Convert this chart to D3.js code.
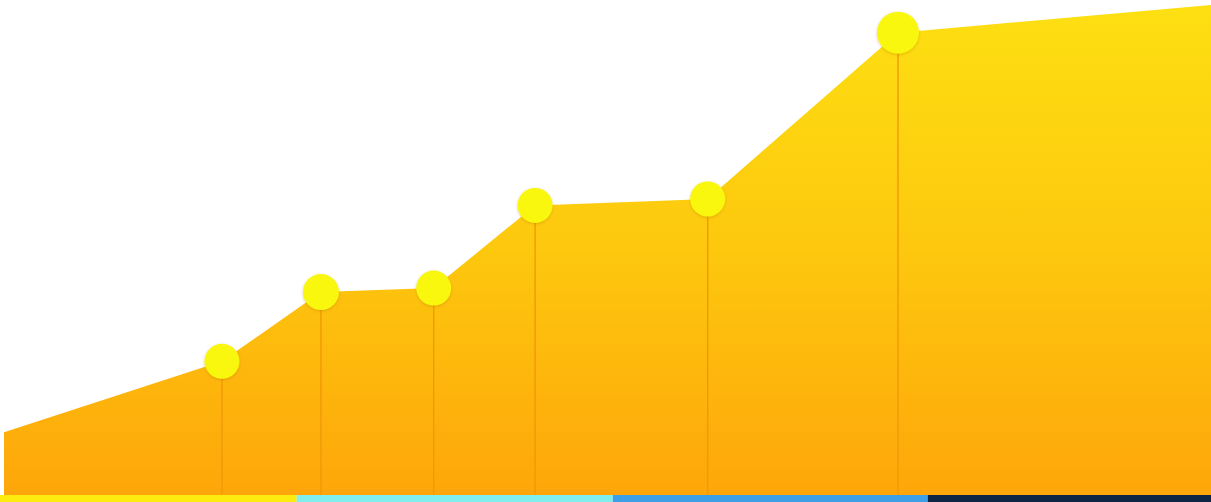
<!DOCTYPE html>
<html><head><meta charset="utf-8">
<script src="https://cdn.jsdelivr.net/npm/d3@7"></script>
<style>html,body{margin:0;padding:0;background:#fff;overflow:hidden}</style>
</head><body>
<svg id="c" width="1211" height="502"></svg>
<script>
// data
const steps = [0, 18.06, 26.26, 35.6, 44.0, 58.3, 74.07, 100];
const values = [12.7, 27.0, 41.0, 41.8, 58.5, 59.8, 93.4, 99.0];
const markerFlags = [false, true, true, true, true, true, true, false];
const markerSizes = [0, 17.5, 18, 17.5, 17.5, 17.5, 21, 0];
const bandLabels = ["A", "B", "C", "D"];
const bandStarts = [0, 24.5, 50.6, 76.6];
const bandEnds = [24.5, 50.6, 76.6, 100];
const bandColors = ["#fdea0f", "#80eeed", "#3d9fe6", "#0f2545"];

const W = 1211, H = 502;
const svg = d3.select("#c");
const x = d3.scaleLinear().domain([0, 100]).range([4, 1211]);
const y = d3.scaleLinear().domain([0, 100]).range([495, 0]);
const xb = d3.scaleLinear().domain([0, 100]).range([0, 1211]);

const defs = svg.append("defs");
const g = defs.append("linearGradient").attr("id", "ag")
  .attr("gradientUnits", "userSpaceOnUse").attr("x1", 0).attr("y1", 0).attr("x2", 0).attr("y2", 495);
g.append("stop").attr("offset", 0).attr("stop-color", "#fde012");
g.append("stop").attr("offset", 0.5).attr("stop-color", "#fdc80e");
g.append("stop").attr("offset", 1).attr("stop-color", "#fea60a");
const f = defs.append("filter").attr("id", "sh").attr("x", "-50%").attr("y", "-50%").attr("width", "200%").attr("height", "200%");
f.append("feDropShadow").attr("dx", 0).attr("dy", 1).attr("stdDeviation", 1.5).attr("flood-color", "#b07000").attr("flood-opacity", 0.35);

const pts = steps.map((s, i) => ({s, v: values[i], m: markerFlags[i], r: markerSizes[i]}));

const area = d3.area().x(d => x(d.s)).y0(y(0)).y1(d => y(d.v));
svg.append("path").datum(pts).attr("d", area).attr("fill", "url(#ag)");

const mk = pts.filter(d => d.m);
svg.selectAll(".drop").data(mk).join("line")
  .attr("x1", d => x(d.s)).attr("x2", d => x(d.s))
  .attr("y1", d => y(d.v)).attr("y2", y(0))
  .attr("stroke", "#f09a06").attr("stroke-width", 1.4);

svg.selectAll(".dot").data(mk).join("circle")
  .attr("cx", d => x(d.s)).attr("cy", d => y(d.v)).attr("r", d => d.r)
  .attr("fill", "#f9f70b").attr("filter", "url(#sh)");

svg.selectAll(".band").data(bandLabels).join("rect")
  .attr("x", (d, i) => xb(bandStarts[i])).attr("width", (d, i) => xb(bandEnds[i]) - xb(bandStarts[i]))
  .attr("y", y(0)).attr("height", H - y(0))
  .attr("fill", (d, i) => bandColors[i]);
</script>
</body></html>
